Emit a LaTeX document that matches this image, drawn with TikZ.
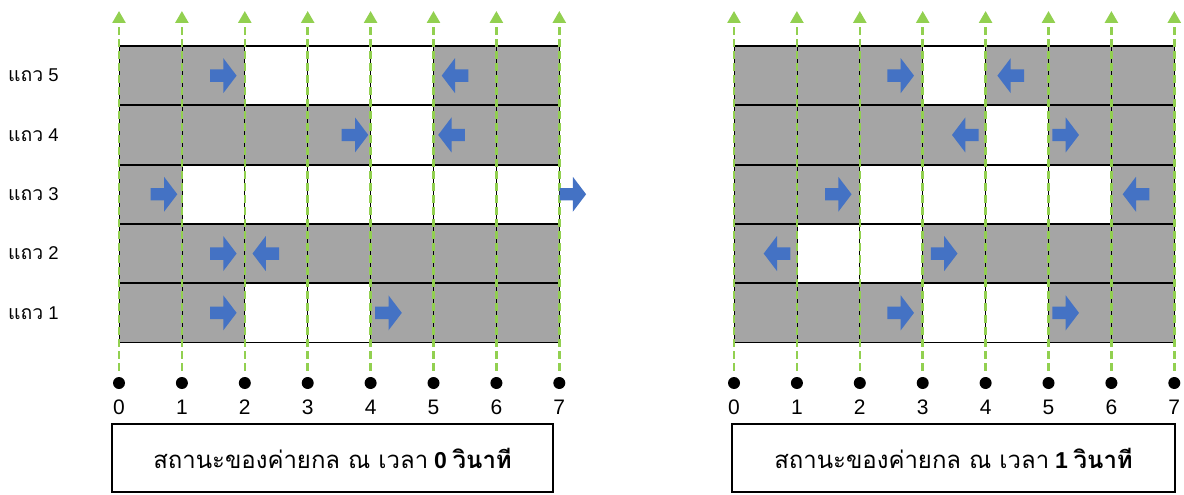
\documentclass[tikz,border=0pt]{standalone}
\usepackage{fontspec}
\setmainfont{Liberation Sans}
\newfontfamily\thaifont[Script=Thai,Scale=1.14]{Loma}
\usetikzlibrary{arrows.meta}

\definecolor{cellgray}{HTML}{A5A5A5}
\definecolor{moveblue}{HTML}{4472C4}
\definecolor{trackgreen}{HTML}{92D050}

\tikzset{
  cellline/.style={draw=black, line width=0.8pt},
  rowline/.style={draw=black, line width=1.8pt},
  track/.style={draw=trackgreen, line width=2.6pt, dash pattern=on 8pt off 4pt,
    -{Triangle[width=13pt,length=12pt]}},
  post/.style={circle, fill=black, inner sep=0pt, minimum size=12pt},
  ticklabel/.style={inner sep=0pt, font=\fontsize{21}{25}\selectfont},
  rowlabel/.style={inner sep=0pt, anchor=west, font=\fontsize{18.5}{21}\selectfont},
  caption/.style={draw=black, line width=1.8pt, minimum height=68pt,
    inner sep=0pt, font=\fontsize{21}{25}\selectfont},
  pics/rmove/.style={code={
    \fill[moveblue] (-13.3,-6.2) -- (0,-6.2) -- (0,-17.5) -- (13.3,0)
      -- (0,17.5) -- (0,6.2) -- (-13.3,6.2) -- cycle;}},
  pics/lmove/.style={code={
    \fill[moveblue] (13.3,-6.2) -- (0,-6.2) -- (0,-17.5) -- (-13.3,0)
      -- (0,17.5) -- (0,6.2) -- (13.3,6.2) -- cycle;}},
}
\newcommand\capdigit[1]{\textbf{\fontsize{23}{25}\selectfont #1}}

\begin{document}
\begin{tikzpicture}[x=1pt,y=-1pt]
\useasboundingbox (0,0) rectangle (1184,495);

% two snapshots of the formation: origin x / empty (white) spans a/b/row
\foreach \ox/\spans/\nm in {119/{2/5/5,4/5/4,1/7/3,2/4/1}/L,
                            734/{3/4/5,4/5/4,2/6/3,1/3/2,3/5/1}/R} {
  \fill[cellgray] (\ox,46) rectangle ({\ox+7*62.9},342.5);
  \foreach \a/\b/\r in \spans {
    \fill[white] ({\ox+\a*62.9},{46+(5-\r)*59.3})
      rectangle ({\ox+\b*62.9},{46+(6-\r)*59.3});
  }
  \foreach \i in {0,...,7} {
    \draw[cellline] ({\ox+\i*62.9},46) -- ({\ox+\i*62.9},342.5);
  }
  \foreach \k in {0,...,5} {
    \draw[rowline] (\ox,{46+\k*59.3}) -- ({\ox+7*62.9},{46+\k*59.3});
  }
  % positions along the track
  \foreach \i in {0,...,7} {
    \node[post] (dot\nm\i) at ({\ox+\i*62.9},383) {};
    \node[ticklabel] (num\nm\i) at ({\ox+\i*62.9},407) {\i};
    \coordinate (top\nm\i) at ({\ox+\i*62.9},11);
    \draw[track] ([yshift=6pt]dot\nm\i.north) -- (top\nm\i);
  }
}

% row labels
\foreach \r in {1,...,5} {
  \node[rowlabel] (row\r) at (8,{46+(5.5-\r)*59.3}) {{\thaifont\fontsize{17}{20}\selectfont แถว} \r};
}

% movement arrows, t = 0
\pic at (223.3,75.65) {rmove};
\pic at (455,75.65) {lmove};
\pic at (355,134.95) {rmove};
\pic at (451.5,134.95) {lmove};
\pic at (164,194.25) {rmove};
\pic at (572.8,194.25) {rmove};
\pic at (223.3,253.55) {rmove};
\pic at (265.8,253.55) {lmove};
\pic at (223.3,312.85) {rmove};
\pic at (388.5,312.85) {rmove};

% movement arrows, t = 1
\pic at (900.7,75.65) {rmove};
\pic at (1010.7,75.65) {lmove};
\pic at (965.3,134.95) {lmove};
\pic at (1065.7,134.95) {rmove};
\pic at (838.3,194.25) {rmove};
\pic at (1136,194.25) {lmove};
\pic at (777,253.55) {lmove};
\pic at (944.2,253.55) {rmove};
\pic at (900.7,312.85) {rmove};
\pic at (1065.7,312.85) {rmove};

% captions
\node[caption, minimum width=441pt] (capL) at (332.5,458)
  {{\thaifont สถานะของค่ายกล ณ เวลา} \capdigit{0} {\thaifont\bfseries วินาที}};
\node[caption, minimum width=443pt] (capR) at (953.5,458)
  {{\thaifont สถานะของค่ายกล ณ เวลา} \capdigit{1} {\thaifont\bfseries วินาที}};
\end{tikzpicture}
\end{document}
